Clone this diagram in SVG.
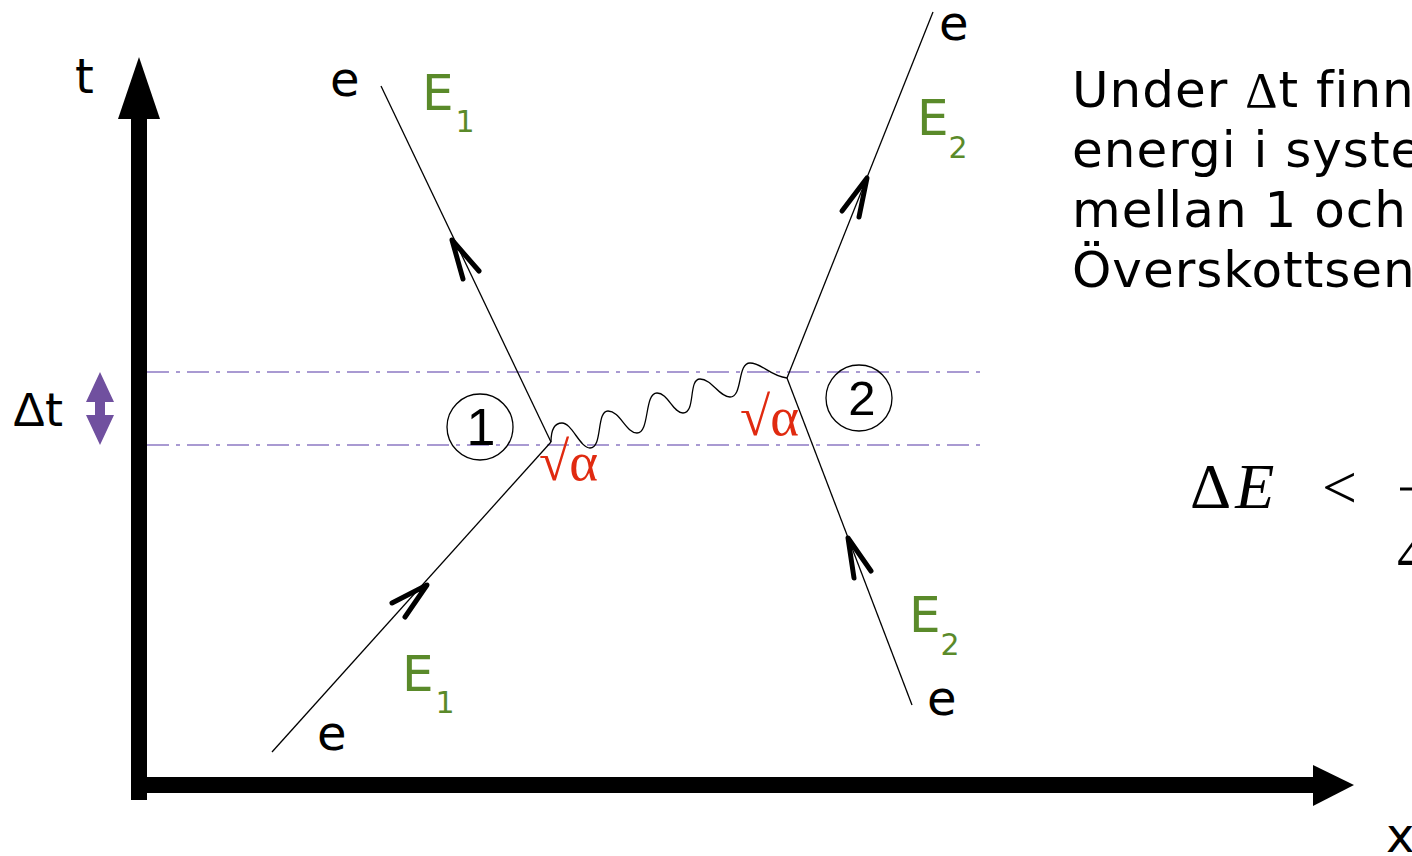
<svg xmlns="http://www.w3.org/2000/svg" width="1412" height="856" viewBox="0 0 1412 856">
<style>
.thin{stroke:#000;stroke-width:1.3;fill:none}
.chev{stroke:#000;stroke-width:5;fill:none;stroke-linecap:round;stroke-linejoin:round}
.dd{stroke:#8d79c4;stroke-width:1.3;fill:none;stroke-dasharray:22 7 4 7}
.s{font-family:"DejaVu Sans","Liberation Sans",sans-serif;fill:#000}
.n{font-family:"Liberation Sans","DejaVu Sans",sans-serif;fill:#000}
.g{font-family:"DejaVu Sans","Liberation Sans",sans-serif;fill:#5a8a2a}
.r{font-family:"Liberation Serif","DejaVu Serif",serif;fill:#e02a10}
.m{font-family:"Liberation Serif","DejaVu Serif",serif;fill:#000}
</style>
<rect width="1412" height="856" fill="#fff"/>
<g id="axes">
<rect x="131" y="118" width="16" height="682" fill="#000"/>
<polygon points="139,57 118,119 160,119" fill="#000"/>
<rect x="131" y="777" width="1184" height="16" fill="#000"/>
<polygon points="1313,765 1354,785 1313,806" fill="#000"/>
<text class="s" x="75" y="93" font-size="48">t</text>
<text class="s" x="1386" y="852" font-size="48">x</text>
</g>
<g id="dt-band">
<line class="dd" x1="147" y1="372" x2="987" y2="372"/>
<line class="dd" x1="147" y1="445" x2="987" y2="445"/>
<polygon points="100,372 86,402 95,402 95,415 86,415 100,445 114,415 105,415 105,402 114,402" fill="#70509f"/>
<text class="s" x="13" y="426" font-size="46"><tspan font-family="Liberation Sans, sans-serif" font-size="48">Δ</tspan>t</text>
</g>
<g id="connectors">
<line class="thin" x1="272" y1="752" x2="551" y2="442"/>
<line class="thin" x1="551" y1="442" x2="381" y2="86"/>
<line class="thin" x1="787" y1="378" x2="933" y2="12"/>
<line class="thin" x1="912" y1="705" x2="787" y2="378"/>
<path class="thin" d="M551,442 C551,432 553,423 562,423 C572,423 580,448 590,448 C603,448 596,411 608,411 C620,411 626,433 637,433 C650,433 644,393 657,393 C668,393 673,413 683,413 C696,413 688,379 700,379 C712,379 719,397 730,397 C743,397 737,363 750,363 C762,363 770,376 787,378"/>
<polyline class="chev" points="463,279 452,240 479,271"/>
<polyline class="chev" points="392,603 427,585 405,617"/>
<polyline class="chev" points="842,211 867,178 859,217"/>
<polyline class="chev" points="854,578 848,538 871,571"/>
</g>
<g id="vertex1">
<circle cx="480" cy="427" r="33" fill="none" stroke="#000" stroke-width="1.3"/>
<text class="n" x="481" y="445" font-size="52" text-anchor="middle">1</text>
<text class="r" x="539" y="480" font-size="55">√α</text>
</g>
<g id="vertex2">
<circle cx="859" cy="398" r="33" fill="none" stroke="#000" stroke-width="1.3"/>
<text class="n" x="862" y="415" font-size="49" text-anchor="middle">2</text>
<text class="r" x="740" y="435" font-size="55">√α</text>
</g>
<g id="labels">
<text class="s" x="330" y="96" font-size="48">e</text>
<text class="s" x="939" y="40" font-size="48">e</text>
<text class="s" x="927" y="715" font-size="48">e</text>
<text class="s" x="317" y="750" font-size="48">e</text>
<text class="g" x="422" y="110" font-size="50">E<tspan font-size="30" dy="22" dx="2">1</tspan></text>
<text class="g" x="917" y="135" font-size="50">E<tspan font-size="30" dy="23" dx="0">2</tspan></text>
<text class="g" x="909" y="632" font-size="50">E<tspan font-size="30" dy="23" dx="0">2</tspan></text>
<text class="g" x="402" y="691" font-size="50">E<tspan font-size="30" dy="22" dx="2">1</tspan></text>
</g>
<g id="explanation">
<text class="s" x="1072" y="107" font-size="50" letter-spacing="1">Under <tspan font-family="Liberation Serif, serif">Δ</tspan>t finn</text>
<text class="s" x="1072" y="167" font-size="50" letter-spacing="1">energi i syste</text>
<text class="s" x="1072" y="227" font-size="50" letter-spacing="1">mellan 1 och</text>
<text class="s" x="1072" y="287" font-size="50" letter-spacing="1">Överskottsen</text>
</g>
<g id="formula">
<text class="m" x="1190" y="508" font-size="64">Δ<tspan font-style="italic" dx="4">E</tspan></text>
<text class="m" x="1322" y="508" font-size="62">&lt;</text>
<line x1="1400" y1="489" x2="1412" y2="489" stroke="#000" stroke-width="3"/>
<text class="m" x="1397" y="574" font-size="62">4</text>
</g>
</svg>
